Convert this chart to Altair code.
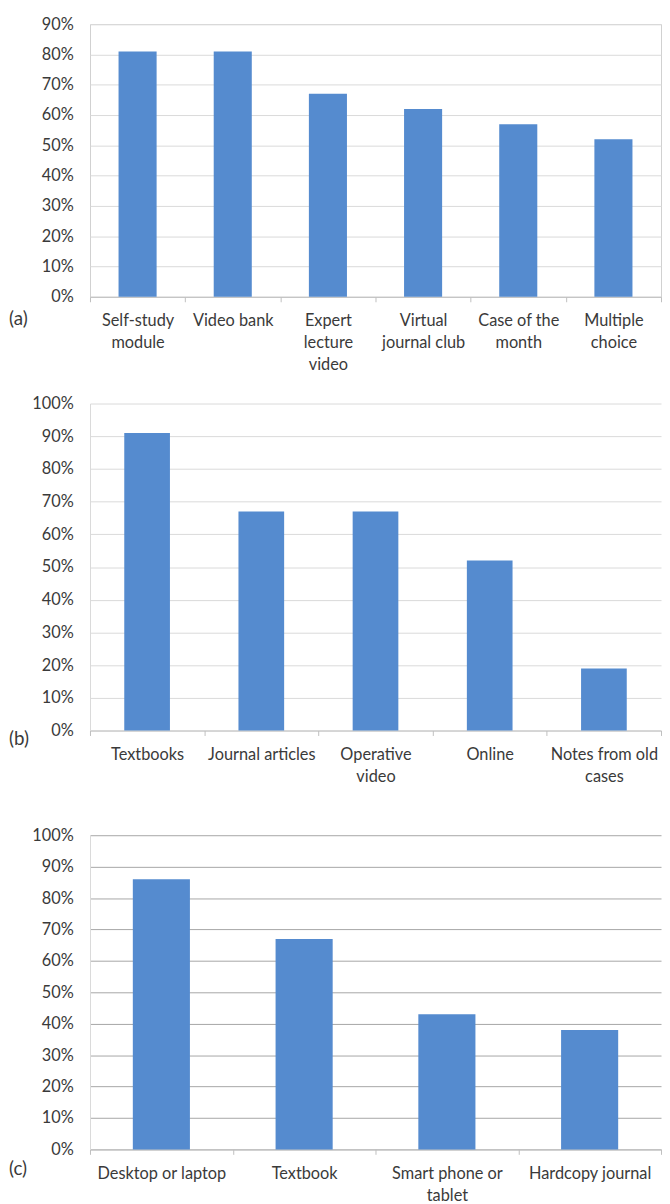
import altair as alt
import pandas as pd

cats_a = ["Self-study|module", "Video bank", "Expert|lecture|video", "Virtual|journal club",
          "Case of the|month", "Multiple|choice"]
vals_a = [81, 81, 67, 62, 57, 52]
cats_b = ["Textbooks", "Journal articles", "Operative|video", "Online", "Notes from old|cases"]
vals_b = [91, 67, 67, 52, 19]
cats_c = ["Desktop or laptop", "Textbook", "Smart phone or|tablet", "Hardcopy journal"]
vals_c = [86, 67, 43, 38]
yticks_a = list(range(0, 91, 10))
yticks_bc = list(range(0, 101, 10))
panel_labels = ["(a)", "(b)", "(c)"]

FONT = "Lato"
TXT = "#3a3a3a"
BAR = "#558bcf"
W = 578


def panel(cats, vals, ymax, ticks, height, grid, ydomain, label, label_dy, stroke):
    df = pd.DataFrame({"cat": cats, "val": vals})
    bars = alt.Chart(df).mark_bar(color=BAR, width=alt.RelativeBandSize(0.4)).encode(
        x=alt.X("cat:N", sort=None,
                scale=alt.Scale(paddingInner=0, paddingOuter=0),
                axis=alt.Axis(title=None, labelAngle=0, labelExpr="split(datum.label, '|')",
                              tickBand="extent", ticks=True, tickSize=5, tickColor="#bfbfbf",
                              domainColor="#bfbfbf", labelPadding=11, labelFont=FONT,
                              labelFontSize=16.5, labelColor=TXT, labelLineHeight=22.5,
                              labelBaseline="top", grid=False)),
        y=alt.Y("val:Q", scale=alt.Scale(domain=[0, ymax], nice=False),
                axis=alt.Axis(title=None, values=ticks, labelExpr="datum.value + '%'",
                              grid=True, gridColor=grid, ticks=False, domain=ydomain,
                              domainColor="#d9d9d9", labelPadding=17, labelFont=FONT,
                              labelFontSize=16.5, labelColor=TXT)),
    )
    lab = alt.Chart(pd.DataFrame({"t": [label]})).mark_text(
        align="left", baseline="middle", font=FONT, fontSize=19, color=TXT
    ).encode(x=alt.value(-82), y=alt.value(height + label_dy), text="t:N")
    layer = alt.layer(bars, lab).properties(width=W, height=height)
    if stroke:
        layer = layer.properties(view=alt.ViewBackground(stroke=stroke, strokeWidth=1))
    else:
        layer = layer.properties(view=alt.ViewBackground(strokeWidth=0))
    return layer


pa = panel(cats_a, vals_a, 90, yticks_a, 276, "#d9d9d9", False, panel_labels[0], 23, "#d0d0d0")
pb = panel(cats_b, vals_b, 100, yticks_bc, 331, "#d9d9d9", True, panel_labels[1], 9, None)
pc = panel(cats_c, vals_c, 100, yticks_bc, 318, "#a6a6a6", True, panel_labels[2], 20, None)

chart = alt.vconcat(alt.vconcat(pa, pb, spacing=22), pc, spacing=43).properties(
    padding={"left": 0, "top": 0, "right": 0, "bottom": 0}
).configure_view(stroke=None)

chart.save("out.html", embed_options={"renderer": "svg", "actions": False})
